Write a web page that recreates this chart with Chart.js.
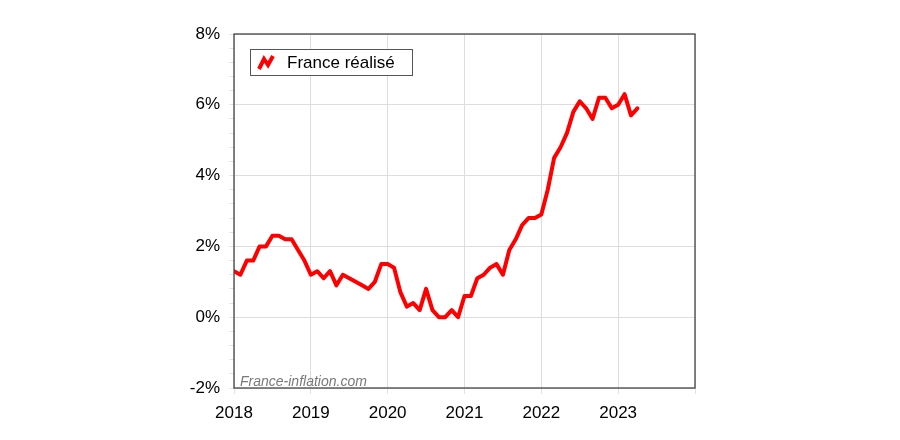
<!DOCTYPE html>
<html>
<head>
<meta charset="utf-8">
<script src="https://cdn.jsdelivr.net/npm/chart.js@4/dist/chart.umd.min.js"></script>
<style>
html,body{margin:0;padding:0;background:#fff;}
canvas{display:block;}
</style>
</head>
<body>
<canvas id="c" width="900" height="440"></canvas>
<script>
// ---- Data ----
const seriesLabel = "France réalisé";
const startYear = 2018;
// Monthly year-on-year inflation (%), Jan 2018 .. Apr 2023
const inflation = [
  1.3, 1.2, 1.6, 1.6, 2.0, 2.0, 2.3, 2.3, 2.2, 2.2, 1.9, 1.6,
  1.2, 1.3, 1.1, 1.3, 0.9, 1.2, 1.1, 1.0, 0.9, 0.8, 1.0, 1.5,
  1.5, 1.4, 0.7, 0.3, 0.4, 0.2, 0.8, 0.2, 0.0, 0.0, 0.2, 0.0,
  0.6, 0.6, 1.1, 1.2, 1.4, 1.5, 1.2, 1.9, 2.2, 2.6, 2.8, 2.8,
  2.9, 3.6, 4.5, 4.8, 5.2, 5.8, 6.1, 5.9, 5.6, 6.2, 6.2, 5.9,
  6.0, 6.3, 5.7, 5.9
];
const yearTicks = [2018, 2019, 2020, 2021, 2022, 2023];
const yMin = -2, yMax = 8, yMajorStep = 2, yMinorStep = 0.4;
const xMin = 2018, xMax = 2024;
const watermark = "France-inflation.com";

const points = inflation.map((v, i) => ({ x: startYear + i / 12, y: v }));

const FONT = "'Liberation Sans', Arial, sans-serif";

function isMajor(v) {
  const r = v / yMajorStep;
  return Math.abs(r - Math.round(r)) < 1e-6;
}

const framePlugin = {
  id: 'frame',
  afterDatasetsDraw(chart) {
    const { ctx, chartArea: a } = chart;
    ctx.save();
    // watermark
    ctx.font = "italic 14px " + FONT;
    ctx.fillStyle = '#7a7a7a';
    ctx.textAlign = 'left';
    ctx.textBaseline = 'alphabetic';
    ctx.fillText(watermark, a.left + 6, a.bottom - 2);
    // frame
    ctx.strokeStyle = '#444';
    ctx.lineWidth = 1.3;
    ctx.strokeRect(a.left, a.top, a.right - a.left, a.bottom - a.top);
    // legend box
    const bx = a.left + 16, by = a.top + 15, bw = 162, bh = 26;
    ctx.fillStyle = '#fff';
    ctx.fillRect(bx, by, bw, bh);
    ctx.strokeStyle = '#555';
    ctx.lineWidth = 1;
    ctx.strokeRect(bx + 0.5, by + 0.5, bw, bh);
    // zigzag icon
    const ds = chart.data.datasets[0];
    ctx.strokeStyle = ds.borderColor;
    ctx.lineWidth = 4;
    ctx.lineJoin = 'miter';
    ctx.beginPath();
    const ix = bx + 9, iy = by + 6;
    ctx.moveTo(ix, iy + 14);
    ctx.lineTo(ix + 5, iy + 4);
    ctx.lineTo(ix + 9, iy + 10);
    ctx.lineTo(ix + 14, iy + 1);
    ctx.stroke();
    ctx.fillStyle = '#000';
    ctx.font = "17px " + FONT;
    ctx.textBaseline = 'middle';
    ctx.fillText(ds.label, bx + 37, by + bh / 2 + 1);
    ctx.restore();
  }
};

new Chart(document.getElementById('c'), {
  type: 'line',
  data: {
    datasets: [{
      label: seriesLabel,
      data: points,
      borderColor: '#ff0000',
      borderWidth: 4,
      pointRadius: 0,
      tension: 0,
      fill: false,
      borderJoinStyle: 'round',
      borderCapStyle: 'round'
    }]
  },
  options: {
    responsive: false,
    animation: false,
    layout: { padding: { left: 0, right: 205, top: 34, bottom: 0 } },
    plugins: { legend: { display: false }, tooltip: { enabled: false } },
    scales: {
      x: {
        type: 'linear',
        min: xMin, max: xMax,
        afterBuildTicks(scale) { scale.ticks = yearTicks.concat([xMax]).map(v => ({ value: v })); },
        afterFit(scale) { scale.height = 52; },
        border: { display: false },
        grid: { color: '#dddddd', lineWidth: 1, tickLength: 6, tickColor: '#e2e2e2' },
        ticks: {
          padding: 9,
          color: '#000',
          font: { family: FONT, size: 17 },
          maxRotation: 0,
          autoSkip: false,
          callback: v => (yearTicks.includes(v) ? String(v) : '')
        }
      },
      y: {
        min: yMin, max: yMax,
        afterFit(scale) { scale.width = 234; },
        border: { display: false },
        grid: {
          color: c => (isMajor(c.tick.value) ? '#dddddd' : 'rgba(0,0,0,0)'),
          tickColor: '#e2e2e2',
          tickLength: 5
        },
        ticks: {
          stepSize: yMinorStep,
          autoSkip: false,
          padding: 9,
          color: '#000',
          font: { family: FONT, size: 17 },
          callback: v => (isMajor(v) ? Math.round(v) + '%' : '')
        }
      }
    }
  },
  plugins: [framePlugin]
});
</script>
</body>
</html>
